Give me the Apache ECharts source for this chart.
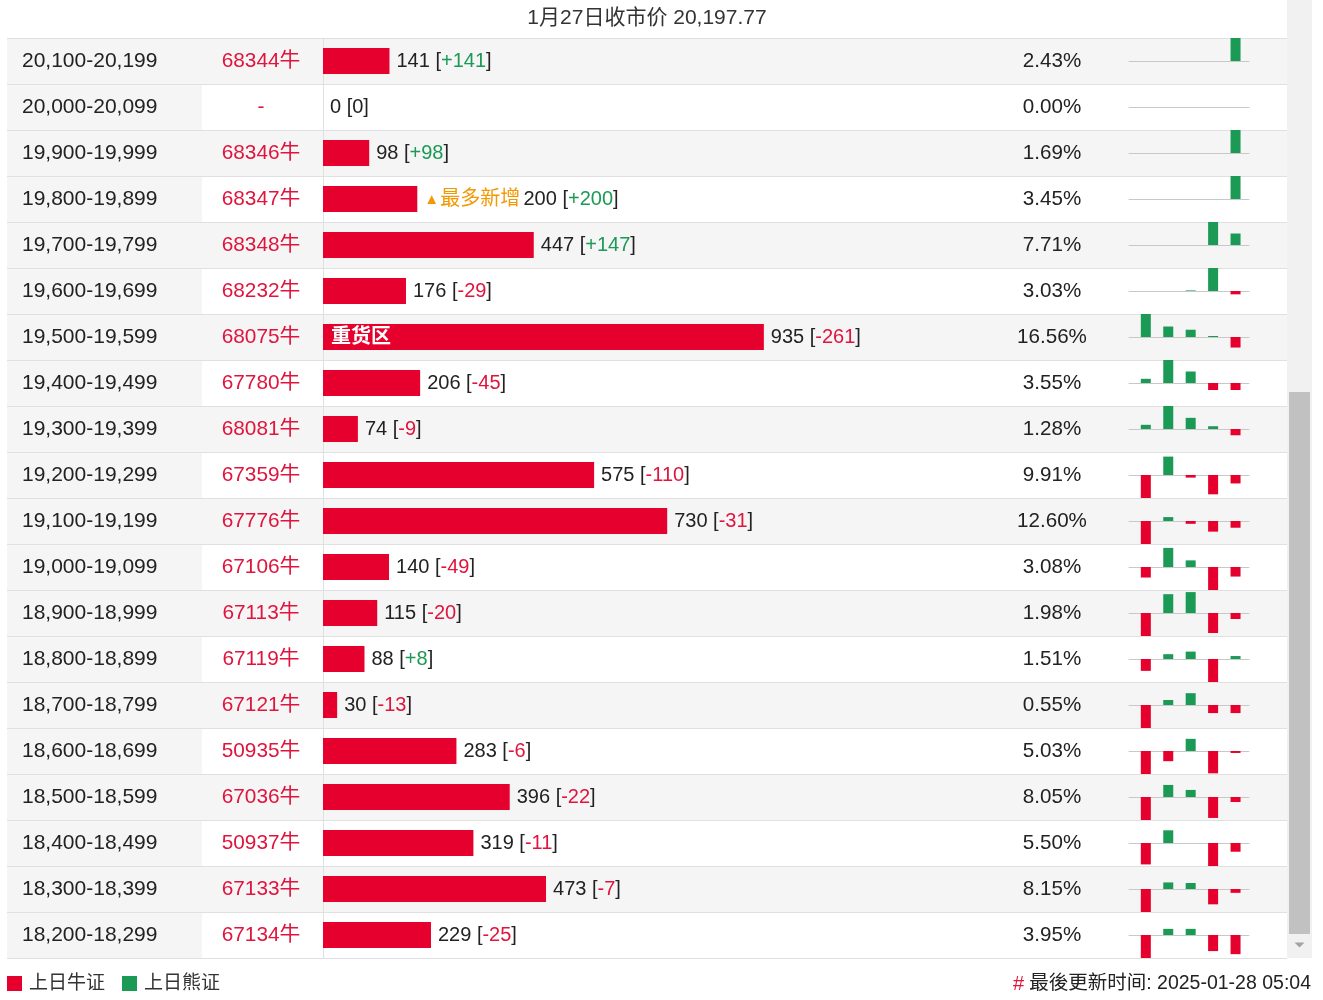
<!DOCTYPE html>
<html><head><meta charset="utf-8">
<script src="https://cdn.jsdelivr.net/npm/echarts@6/dist/echarts.min.js"></script>
<style>html,body{margin:0;padding:0;background:#fff}#c{width:1323px;height:1000px}</style>
</head><body><div id="c"></div>
<script>
var ranges = ['20,100-20,199','20,000-20,099','19,900-19,999','19,800-19,899','19,700-19,799','19,600-19,699','19,500-19,599','19,400-19,499','19,300-19,399','19,200-19,299','19,100-19,199','19,000-19,099','18,900-18,999','18,800-18,899','18,700-18,799','18,600-18,699','18,500-18,599','18,400-18,499','18,300-18,399','18,200-18,299'];
var codes = ['68344牛','-','68346牛','68347牛','68348牛','68232牛','68075牛','67780牛','68081牛','67359牛','67776牛','67106牛','67113牛','67119牛','67121牛','50935牛','67036牛','50937牛','67133牛','67134牛'];
var values = [141,0,98,200,447,176,935,206,74,575,730,140,115,88,30,283,396,319,473,229];
var changes = [141,0,98,200,147,-29,-261,-45,-9,-110,-31,-49,-20,8,-13,-6,-22,-11,-7,-25];
var percents = ['2.43%','0.00%','1.69%','3.45%','7.71%','3.03%','16.56%','3.55%','1.28%','9.91%','12.60%','3.08%','1.98%','1.51%','0.55%','5.03%','8.05%','5.50%','8.15%','3.95%'];
var notes = ['','','','最多新增','','','重货区','','','','','','','','','','','','',''];
var sparks = [
  [0,0,0,0,141],
  [0,0,0,0,0],
  [0,0,0,0,98],
  [0,0,0,0,200],
  [0,0,0,294,147],
  [0,0,5,200,-29],
  [570,260,180,25,-261],
  [27,148,74,-45,-45],
  [6,33,16,4,-9],
  [-300,240,-34,-252,-110],
  [-106,18,-13,-49,-31],
  [-54,98,34,-118,-49],
  [-77,63,70,-67,-20],
  [-32,13,20,-62,8],
  [-37,8,19,-13,-13],
  [-70,-31,37,-68,-6],
  [-101,53,31,-92,-22],
  [-27,16,0,-29,-11],
  [-42,12,11,-28,-7],
  [-30,8,8,-21,-25]
];
var title = '1月27日收市价 20,197.77';
var updated = '最後更新时间: 2025-01-28 05:04';
var legendNames = ['上日牛证','上日熊证'];

var RED = '#e6002d', GREEN = '#1b9a56', TXTRED = '#e0143c', TXT = '#222';
var FONT = '"Liberation Sans", Arial, "Noto Sans CJK SC", sans-serif';
var N = ranges.length, TOP = 38, ROWH = 46;

var grids = [
  {left:7, top:TOP, width:1280, height:N*ROWH, outerBoundsMode:'none', containLabel:false},
  {left:7, top:TOP, width:195, height:N*ROWH, outerBoundsMode:'none', containLabel:false},
  {left:323, top:TOP, width:943, height:N*ROWH, outerBoundsMode:'none', containLabel:false}
];
var xAxes = [
  {gridIndex:0, type:'value', show:false},
  {gridIndex:1, type:'value', show:false},
  {gridIndex:2, type:'value', min:0, max:2000, show:false}
];
var lineCol = '#e0e0e0';
var yAxes = [
  {gridIndex:0, type:'category', inverse:true, data:ranges, axisLine:{show:false}, axisTick:{show:false}, axisLabel:{show:false},
   splitArea:{show:true, areaStyle:{color:['#f5f5f5','#ffffff']}}, splitLine:{show:true, lineStyle:{color:lineCol}}},
  {gridIndex:1, type:'category', inverse:true, data:ranges, axisLine:{show:false}, axisTick:{show:false}, axisLabel:{show:false},
   splitArea:{show:true, areaStyle:{color:['#f5f5f5','#f5f5f5']}}, splitLine:{show:true, lineStyle:{color:lineCol}}},
  {gridIndex:2, type:'category', position:'left', offset:0, inverse:true, data:ranges, axisLine:{show:false}, axisTick:{show:false},
   axisLabel:{margin:301, align:'left', fontSize:21, color:TXT, fontFamily:FONT}},
  {gridIndex:2, type:'category', position:'left', offset:0, inverse:true, data:codes, axisLine:{show:true, lineStyle:{color:lineCol}}, axisTick:{show:false},
   axisLabel:{margin:62, align:'center', fontSize:20.8, color:TXTRED, fontFamily:FONT}},
  {gridIndex:2, type:'category', position:'right', offset:-214, inverse:true, data:percents, axisLine:{show:false}, axisTick:{show:false},
   axisLabel:{margin:0, align:'center', fontSize:20.6, color:TXT, fontFamily:FONT}}
];
var series = [
  {name:legendNames[0], type:'bar', xAxisIndex:2, yAxisIndex:2, barWidth:26, barGap:'-100%', data:values,
   itemStyle:{color:RED}, silent:true,
   label:{show:true, position:'right', distance:7, fontFamily:FONT,
     formatter:function(p){
       var i=p.dataIndex, ch=changes[i];
       var chs = ch>0 ? '+'+ch : String(ch);
       var cls = ch>0 ? 'g' : (ch<0 ? 'r' : 'n');
       var tag = notes[i]==='最多新增' ? '{tri|▲}{tag|'+notes[i]+'} ' : '';
       return tag + '{n|'+values[i]+' [}{'+cls+'|'+chs+'}{n|]}';
     },
     rich:{
       n:{fontSize:20, color:TXT, fontFamily:FONT},
       g:{fontSize:20, color:GREEN, fontFamily:FONT},
       r:{fontSize:20, color:TXTRED, fontFamily:FONT},
       tri:{fontSize:15, color:'#f39800', fontFamily:FONT, padding:[2,1,0,0]},
       tag:{fontSize:20, color:'#f39800', fontFamily:FONT}
     }}},
  {name:'note', type:'bar', xAxisIndex:2, yAxisIndex:2, barWidth:26, barGap:'-100%',
   data:values.map(function(v,i){return notes[i]==='重货区' ? v : '-';}),
   itemStyle:{color:'rgba(0,0,0,0)'}, silent:true,
   label:{show:true, position:'insideLeft', distance:8, color:'#fff', fontWeight:'bold', fontSize:20, fontFamily:FONT,
     formatter:function(p){return notes[p.dataIndex];}}}
];
for (var i=0;i<N;i++){
  grids.push({left:1129, top:TOP+i*ROWH, width:120, height:ROWH, outerBoundsMode:'none', containLabel:false});
  xAxes.push({gridIndex:3+i, type:'value', min:-0.75, max:4.6, axisLine:{show:true, onZero:true, lineStyle:{color:'#c8c8c8'}},
    axisTick:{show:false}, axisLabel:{show:false}, splitLine:{show:false}});
  yAxes.push({gridIndex:3+i, type:'value', show:false,
    min:function(v){var a=Math.max(Math.abs(v.min)||0,Math.abs(v.max)||0); return -(a>0?a:1);},
    max:function(v){var a=Math.max(Math.abs(v.min)||0,Math.abs(v.max)||0); return (a>0?a:1);}});
  var pos=[], neg=[];
  sparks[i].forEach(function(v,k){
    pos.push(v>=0?[k,v]:[k,'-']);
    neg.push(v<0?[k,v]:[k,'-']);
  });
  series.push({name:legendNames[1], type:'bar', xAxisIndex:3+i, yAxisIndex:5+i, barWidth:10, barGap:'-100%', data:pos, itemStyle:{color:GREEN}, silent:true});
  series.push({name:legendNames[0], type:'bar', xAxisIndex:3+i, yAxisIndex:5+i, barWidth:10, barGap:'-100%', data:neg, itemStyle:{color:RED}, silent:true});
}

var chart = echarts.init(document.getElementById('c'));
chart.setOption({
  animation:false,
  backgroundColor:'#fff',
  title:[
    {text:title, left:642, top:3, textAlign:'center', textStyle:{fontSize:21, fontWeight:'normal', color:'#333', fontFamily:FONT}},
    {text:'{h|#} {t|'+updated+'}', right:12, top:974, padding:0, textStyle:{fontWeight:'normal',
     rich:{h:{fontSize:20, color:TXTRED, fontWeight:'normal', fontFamily:FONT}, t:{fontSize:19.5, color:'#222', fontWeight:'normal', fontFamily:FONT}}}}
  ],
  legend:{data:legendNames, left:7, top:974, padding:0, icon:'rect', itemWidth:15, itemHeight:15, itemGap:17,
    textStyle:{fontSize:19, color:'#333', fontFamily:FONT, padding:[0,0,0,2]}, selectedMode:false},
  grid:grids, xAxis:xAxes, yAxis:yAxes, series:series,
  graphic:[
    {type:'rect', z:100, shape:{x:1287, y:0, width:25, height:958}, style:{fill:'#f1f1f1'}},
    {type:'rect', z:101, shape:{x:1289, y:392, width:21, height:542}, style:{fill:'#c1c1c1'}},
    {type:'polygon', z:101, shape:{points:[[1294.5,942.5],[1304.5,942.5],[1299.5,947.5]]}, style:{fill:'#a3a3a3'}}
  ]
});
</script></body></html>
